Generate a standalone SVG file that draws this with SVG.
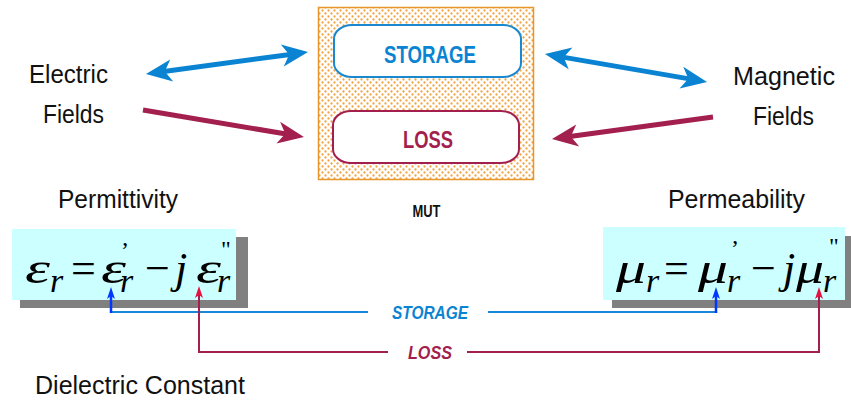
<svg xmlns="http://www.w3.org/2000/svg" width="851" height="402" viewBox="0 0 851 402">
  <style>
    .lbl { font-family: "Liberation Sans", Arial, sans-serif; font-size: 25px; fill: #111; }
    .box-txt { font-family: "Liberation Sans", Arial, sans-serif; font-weight: bold; font-size: 23px; text-anchor: middle; }
    .math { font-family: "Liberation Serif", "Times New Roman", serif; font-style: italic; font-size: 44px; fill: #000; }
    .sub { font-family: "Liberation Serif", "Times New Roman", serif; font-style: italic; font-size: 34px; fill: #000; }
    .op { font-family: "Liberation Serif", "Times New Roman", serif; font-size: 44px; fill: #000; }
    .prime { font-family: "Liberation Serif", "Times New Roman", serif; font-size: 24px; fill: #000; }
    .tag { font-family: "Liberation Sans", Arial, sans-serif; font-weight: bold; font-style: italic; font-size: 18px; text-anchor: middle; }
    .blue { fill: #0a84d2; }
    .crimson { fill: #a31f4e; }
  </style>
  <defs>
    <pattern id="dots" width="6" height="6" patternUnits="userSpaceOnUse">
      <rect width="6" height="6" fill="#ffffff"/>
      <circle cx="1.5" cy="1.5" r="1.15" fill="#f2a443"/>
      <circle cx="4.5" cy="4.5" r="1.15" fill="#f2a443"/>
    </pattern>
    <marker id="bigBlue" markerUnits="userSpaceOnUse" viewBox="-10 -12 30 24" refX="0" refY="0" markerWidth="30" markerHeight="24" orient="auto-start-reverse">
      <path d="M18,0 L-8,-11 L-1,0 L-8,11 Z" fill="#0a84d2"/>
    </marker>
    <marker id="bigRed" markerUnits="userSpaceOnUse" viewBox="-10 -12 30 24" refX="0" refY="0" markerWidth="30" markerHeight="24" orient="auto-start-reverse">
      <path d="M18,0 L-8,-11 L-1,0 L-8,11 Z" fill="#a31f4e"/>
    </marker>
    <marker id="smallBlue" markerUnits="userSpaceOnUse" viewBox="-6 -5 16 10" refX="0" refY="0" markerWidth="16" markerHeight="10" orient="auto">
      <path d="M8,0 L-4,-4 L-1,0 L-4,4 Z" fill="#0038ff"/>
    </marker>
    <marker id="smallRed" markerUnits="userSpaceOnUse" viewBox="-6 -5 16 10" refX="0" refY="0" markerWidth="16" markerHeight="10" orient="auto">
      <path d="M8,0 L-4,-4 L-1,0 L-4,4 Z" fill="#e81040"/>
    </marker>
  </defs>

  <rect width="851" height="402" fill="#ffffff"/>

  <!-- material under test -->
  <g id="mut">
    <rect x="318.5" y="7.5" width="215" height="172" fill="url(#dots)" stroke="#e8962a" stroke-width="1.5"/>
    <text x="426.5" y="217" font-family="'Liberation Sans', Arial, sans-serif" font-weight="bold" font-size="16" text-anchor="middle" fill="#111" textLength="28" lengthAdjust="spacingAndGlyphs">MUT</text>
  </g>

  <g id="storage-box">
    <rect x="334" y="25" width="187" height="52" rx="18" ry="14" fill="#ffffff" stroke="#1a88d0" stroke-width="2"/>
    <text class="box-txt blue" x="430" y="63" textLength="92" lengthAdjust="spacingAndGlyphs">STORAGE</text>
  </g>

  <g id="loss-box">
    <rect x="333" y="111" width="186" height="52" rx="18" ry="14" fill="#ffffff" stroke="#a31f4e" stroke-width="2"/>
    <text class="box-txt crimson" x="428" y="148" textLength="50" lengthAdjust="spacingAndGlyphs">LOSS</text>
  </g>

  <g id="electric-fields">
    <text class="lbl" x="29" y="83" textLength="79" lengthAdjust="spacingAndGlyphs">Electric</text>
    <text class="lbl" x="43" y="123" textLength="61" lengthAdjust="spacingAndGlyphs">Fields</text>
  </g>

  <g id="magnetic-fields">
    <text class="lbl" x="733" y="85" textLength="102" lengthAdjust="spacingAndGlyphs">Magnetic</text>
    <text class="lbl" x="753" y="125" textLength="61" lengthAdjust="spacingAndGlyphs">Fields</text>
  </g>

  <g id="permittivity">
    <text class="lbl" x="58" y="208" textLength="120" lengthAdjust="spacingAndGlyphs">Permittivity</text>
    <rect x="20" y="237" width="228" height="71" fill="#808080"/>
    <rect x="12" y="229" width="224" height="71" fill="#ccffff"/>
    <text class="math" x="25" y="283" textLength="25" lengthAdjust="spacingAndGlyphs">ε</text>
    <text class="sub" x="50" y="292">r</text>
    <text class="op" x="71" y="283">=</text>
    <text class="math" x="101" y="283" textLength="25" lengthAdjust="spacingAndGlyphs">ε</text>
    <text class="prime" x="121" y="258">’</text>
    <text class="sub" x="120" y="292">r</text>
    <text class="op" x="145" y="283">−</text>
    <text class="math" x="175" y="283">j</text>
    <text class="math" x="196" y="283" textLength="25" lengthAdjust="spacingAndGlyphs">ε</text>
    <text class="prime" x="221" y="257">"</text>
    <text class="sub" x="217" y="292">r</text>
  </g>

  <g id="permeability">
    <text class="lbl" x="668" y="208" textLength="137" lengthAdjust="spacingAndGlyphs">Permeability</text>
    <rect x="612" y="236" width="239" height="72" fill="#808080"/>
    <rect x="603" y="227" width="242" height="73" fill="#ccffff"/>
    <text class="math" x="616" y="283" textLength="30" lengthAdjust="spacingAndGlyphs">μ</text>
    <text class="sub" x="646" y="292">r</text>
    <text class="op" x="664" y="283">=</text>
    <text class="math" x="698" y="283" textLength="30" lengthAdjust="spacingAndGlyphs">μ</text>
    <text class="prime" x="731" y="256">’</text>
    <text class="sub" x="727" y="292">r</text>
    <text class="op" x="751" y="283">−</text>
    <text class="math" x="783" y="283">j</text>
    <text class="math" x="796" y="283" textLength="28" lengthAdjust="spacingAndGlyphs">μ</text>
    <text class="prime" x="829" y="254">"</text>
    <text class="sub" x="823" y="292">r</text>
  </g>

  <g id="dielectric-constant">
    <text class="lbl" x="35" y="394" textLength="210" lengthAdjust="spacingAndGlyphs">Dielectric Constant</text>
  </g>

  <g id="connectors" fill="none">
    <!-- field interaction arrows -->
    <line x1="163.8" y1="71.6" x2="290.2" y2="54.4" stroke="#0a84d2" stroke-width="5" marker-start="url(#bigBlue)" marker-end="url(#bigBlue)"/>
    <line x1="143" y1="110" x2="286.2" y2="134" stroke="#a31f4e" stroke-width="5" marker-end="url(#bigRed)"/>
    <line x1="562.7" y1="57.1" x2="689.3" y2="78.9" stroke="#0a84d2" stroke-width="5" marker-start="url(#bigBlue)" marker-end="url(#bigBlue)"/>
    <line x1="713" y1="117" x2="569.8" y2="136.6" stroke="#a31f4e" stroke-width="5" marker-end="url(#bigRed)"/>

    <!-- storage (real part) leader -->
    <polyline points="368,312 111,312" stroke="#1a88d8" stroke-width="2"/>
    <polyline points="488,312 716,312" stroke="#1a88d8" stroke-width="2"/>
    <line x1="111" y1="313" x2="111" y2="295" stroke="#0038ff" stroke-width="2.5" marker-end="url(#smallBlue)"/>
    <line x1="716" y1="313" x2="716" y2="295" stroke="#0038ff" stroke-width="2.5" marker-end="url(#smallBlue)"/>
    <text class="tag blue" x="430" y="319" textLength="76" lengthAdjust="spacingAndGlyphs">STORAGE</text>

    <!-- loss (imaginary part) leader -->
    <polyline points="388,352 199,352 199,294" stroke="#a31f4e" stroke-width="2"/>
    <polyline points="467,352 819,352 819,295" stroke="#a31f4e" stroke-width="2"/>
    <line x1="199" y1="300" x2="199" y2="294" stroke="#a31f4e" stroke-width="2" marker-end="url(#smallRed)"/>
    <line x1="819" y1="300" x2="819" y2="295" stroke="#a31f4e" stroke-width="2" marker-end="url(#smallRed)"/>
    <text class="tag crimson" x="430" y="359" textLength="44" lengthAdjust="spacingAndGlyphs">LOSS</text>
  </g>
</svg>
